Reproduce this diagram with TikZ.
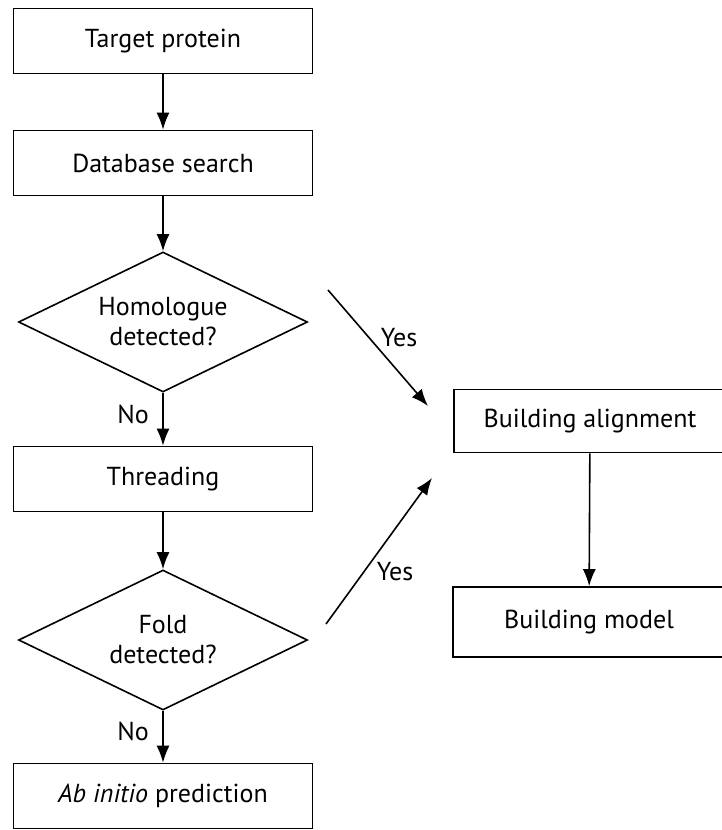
\documentclass[tikz,border=0pt]{standalone}
\usepackage{fontspec}
\setmainfont{PT Sans}
\usepackage{tikz}
\usetikzlibrary{arrows.meta,shapes.geometric}
\tikzset{every picture/.style={line width=1.6pt, x=1pt, y=-1pt}}
\tikzset{stepbox/.style={draw, rectangle, minimum width=299pt, minimum height=65pt, inner sep=0pt, font=\fontsize{26}{30}\selectfont}}
\tikzset{query/.style={draw, diamond, aspect=2.1, minimum width=289pt, minimum height=140pt, inner sep=0pt, align=center, font=\fontsize{26}{30}\selectfont}}
\tikzset{flow/.style={-{Latex[length=17pt,width=13pt]}}}
\tikzset{answer/.style={font=\fontsize{26}{30}\selectfont}}

\begin{document}
\begin{tikzpicture}
\useasboundingbox (0,0) rectangle (721,830);
% left column
\node[stepbox] (tp) at (163,41) {Target protein};
\node[stepbox] (db) at (163,163) {Database search};
\node[query] (hom) at (163,322) {Homologue\\detected?};
\node[stepbox] (thr) at (163,479) {Threading};
\node[query] (fold) at (163,640) {Fold\\detected?};
\node[stepbox] (abi) at (163,796) {\textit{Ab initio} prediction};
% right column
\node[stepbox, minimum width=272pt, minimum height=63pt] (aln) at (590,421) {Building alignment};
\node[stepbox, minimum width=272pt, minimum height=70pt] (mod) at (589,622) {Building model};
\coordinate (y1s) at (328,290);
\coordinate (y1e) at (428,406);
\coordinate (y2s) at (326,624);
\coordinate (y2e) at (432,478);
\draw[flow] (tp) -- (db);
\draw[flow] (db) -- (hom);
\draw[flow] (hom) -- node[answer, left=10pt, pos=0.4] {No} (thr);
\draw[flow] (thr) -- (fold);
\draw[flow] (fold) -- node[answer, left=10pt, pos=0.4] {No} (abi);
\draw[flow] (aln) -- (mod);
\draw[flow] (y1s) -- (y1e);
\draw[flow] (y2s) -- (y2e);
\node[answer] (yes1) at (399,338) {Yes};
\node[answer] (yes2) at (395,572) {Yes};
\end{tikzpicture}
\end{document}
